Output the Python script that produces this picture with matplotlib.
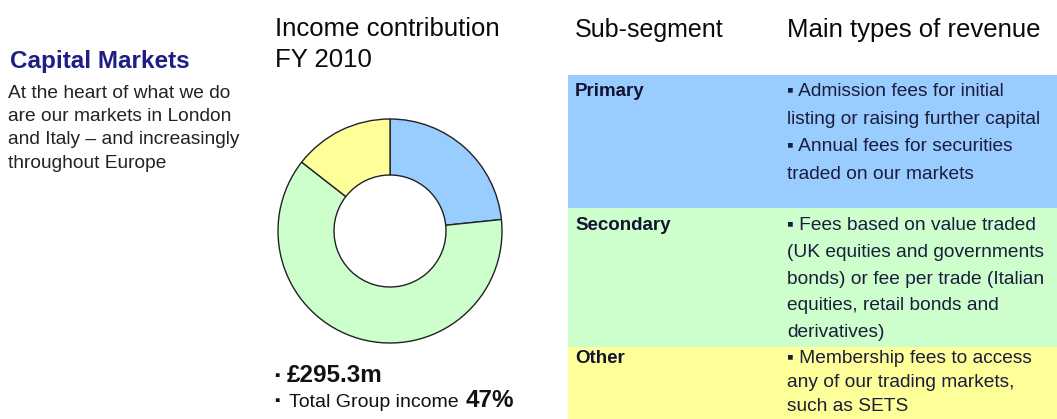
import matplotlib
matplotlib.use("Agg")
import matplotlib.pyplot as plt
from matplotlib.patches import Rectangle

# --- Data ---
segments = ["Primary", "Secondary", "Other"]
income = [69.0, 183.6, 42.7]          # £m, FY 2010
seg_colors = ["#99CCFF", "#CCFFCC", "#FFFF99"]

intro_title = "Capital Markets"
intro_lines = ["At the heart of what we do",
               "are our markets in London",
               "and Italy \u2013 and increasingly",
               "throughout Europe"]

chart_title = ["Income contribution", "FY 2010"]
total_income = "\u00a3295.3m"
group_share = "47%"

col_headers = ["Sub-segment", "Main types of revenue"]
revenue_lines = [
    ["\u25aa Admission fees for initial",
     "listing or raising further capital",
     "\u25aa Annual fees for securities",
     "traded on our markets"],
    ["\u25aa Fees based on value traded",
     "(UK equities and governments",
     "bonds) or fee per trade (Italian",
     "equities, retail bonds and",
     "derivatives)"],
    ["\u25aa Membership fees to access",
     "any of our trading markets,",
     "such as SETS"],
]

# --- Layout (pixels) ---
W, H = 1057, 419
row_edges = [75, 208, 347, 419]
row_first_baseline = [96, 230, 363]
row_line_step = [27.5, 26.8, 24.2]
table_left = 568

plt.rcParams["font.family"] = ["Liberation Sans", "DejaVu Sans"]
fig = plt.figure(figsize=(W / 100, H / 100), dpi=100)
fig.patch.set_facecolor("white")


def px_text(x, y, s, **kw):
    return fig.text(x / W, 1 - y / H, s, va="baseline", **kw)


# left column
px_text(10, 68, intro_title, fontsize=17.5, fontweight="bold", color="#1E1E86")
for i, line in enumerate(intro_lines):
    px_text(8, 98 + i * 23.2, line, fontsize=13.8, color="#222222")

# middle column: titles
for i, line in enumerate(chart_title):
    px_text(275, 36 + i * 31, line, fontsize=18.5, color="#0A0A0A")

# donut chart
cx, cy, r = 390, 231, 112
half = 116
ax = fig.add_axes([(cx - half) / W, 1 - (cy + half) / H, 2 * half / W, 2 * half / H])
ax.pie(income, colors=seg_colors, startangle=90, counterclock=False,
       radius=1.0, wedgeprops=dict(width=0.5, edgecolor="#222222", linewidth=1.0))
lim = half / r
ax.set_xlim(-lim, lim)
ax.set_ylim(-lim, lim)
ax.set_aspect("equal")
ax.axis("off")

px_text(274, 380, "\u25aa", fontsize=11, color="#111111")
px_text(287, 382, total_income, fontsize=17.5, fontweight="bold", color="#111111")
px_text(274, 405, "\u25aa", fontsize=11, color="#111111")
px_text(289, 407, "Total Group income", fontsize=14, color="#111111")
px_text(466, 407, group_share, fontsize=17.5, fontweight="bold", color="#111111")

# right columns: table
px_text(575, 37, col_headers[0], fontsize=18, color="#0A0A0A")
px_text(787, 37, col_headers[1], fontsize=18.5, color="#0A0A0A")

for k, seg in enumerate(segments):
    top, bottom = row_edges[k], row_edges[k + 1]
    fig.patches.append(Rectangle((table_left / W, 1 - bottom / H),
                                 (W - table_left) / W, (bottom - top) / H,
                                 transform=fig.transFigure, facecolor=seg_colors[k],
                                 edgecolor="none", zorder=0))
    base = row_first_baseline[k]
    px_text(575, base, seg, fontsize=13.5, fontweight="bold", color="#141432")
    for j, line in enumerate(revenue_lines[k]):
        px_text(787, base + j * row_line_step[k], line, fontsize=13.8, color="#1C1C3C")

fig.savefig("out.png", dpi=100, facecolor="white")
